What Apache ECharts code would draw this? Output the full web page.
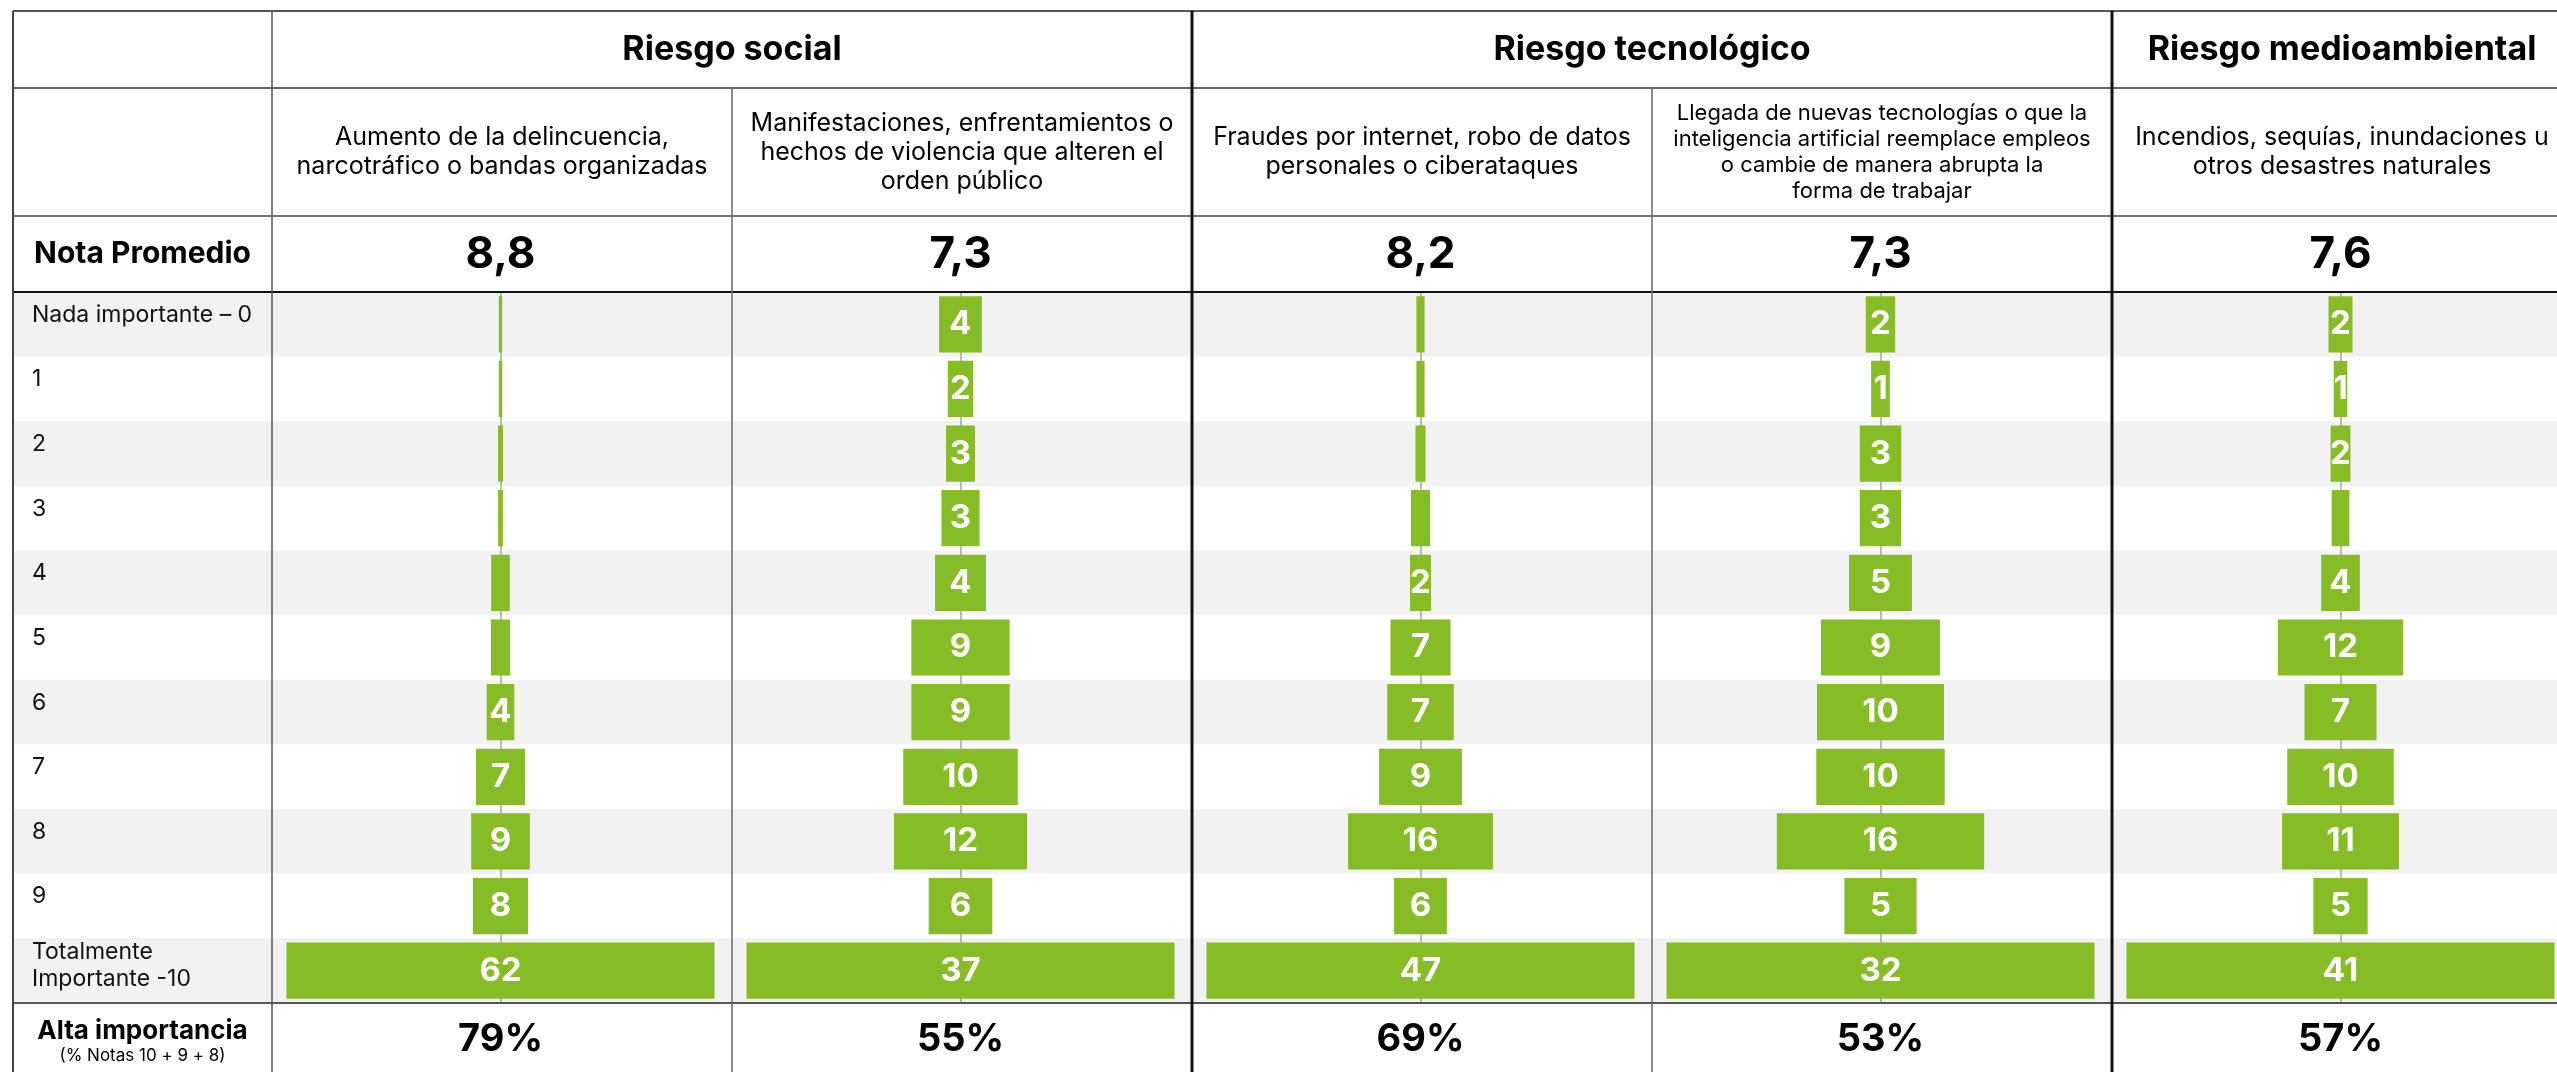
<!DOCTYPE html>
<html>
<head>
<meta charset="utf-8">
<style>
  html, body { margin: 0; padding: 0; background: #fff; }
  #chart { width: 2557px; height: 1072px; }
</style>
<script src="https://cdn.jsdelivr.net/npm/echarts@6/dist/echarts.min.js"></script>
</head>
<body>
<div id="chart"></div>
<script>
// categorias (filas)
const categorias = [
  'Nada importante – 0', '1', '2', '3', '4', '5', '6', '7', '8', '9',
  'Totalmente\nImportante -10'
]
const secciones = ['Riesgo social', 'Riesgo tecnológico', 'Riesgo medioambiental']
const riesgos = [
  'Aumento de la delincuencia,\nnarcotráfico o bandas organizadas',
  'Manifestaciones, enfrentamientos o\nhechos de violencia que alteren el\norden público',
  'Fraudes por internet, robo de datos\npersonales o ciberataques',
  'Llegada de nuevas tecnologías o que la\ninteligencia artificial reemplace empleos\no cambie de manera abrupta la\nforma de trabajar',
  'Incendios, sequías, inundaciones u\notros desastres naturales'
]
const notaPromedio = ['8,8', '7,3', '8,2', '7,3', '7,6']
const altaImportancia = [79, 55, 69, 53, 57]

// % por nota, cada riesgo
const delincuencia = [0.5, 0.5, 0.7, 0.7, 2.7, 2.8, 4.0, 7.1, 8.5, 8.0, 62]
const manifestaciones = [3.7, 2.2, 2.5, 3.3, 4.4, 8.5, 8.5, 9.9, 11.5, 5.5, 37]
const fraudes = [0.9, 0.9, 1.1, 2.1, 2.3, 6.6, 7.3, 9.1, 15.9, 5.8, 47]
const tecnologias = [2.2, 1.4, 3.1, 3.1, 4.7, 8.9, 9.5, 9.6, 15.5, 5.4, 32]
const desastres = [2.3, 1.3, 1.9, 1.7, 3.7, 12.0, 6.9, 10.2, 11.2, 5.2, 41]

// etiquetas que se muestran en las barras
const etqDelincuencia = ['', '', '', '', '', '', '4', '7', '9', '8', '62']
const etqManifestaciones = ['4', '2', '3', '3', '4', '9', '9', '10', '12', '6', '37']
const etqFraudes = ['', '', '', '', '2', '7', '7', '9', '16', '6', '47']
const etqTecnologias = ['2', '1', '3', '3', '5', '9', '10', '10', '16', '5', '32']
const etqDesastres = ['2', '1', '2', '', '4', '12', '7', '10', '11', '5', '41']

const valores = [delincuencia, manifestaciones, fraudes, tecnologias, desastres]
const etiquetas = [etqDelincuencia, etqManifestaciones, etqFraudes, etqTecnologias, etqDesastres]

const verde = '#86bc25'
const font = 'Inter'

// layout de la tabla
const colX = [13, 272, 732, 1192, 1652, 2112, 2572]
const rowY = [11, 88, 216, 292, 1003]
const barSpan = 428

const grids = [{ left: colX[0], right: 0, top: rowY[3], height: rowY[4] - rowY[3] }]
const xAxes = [{ gridIndex: 0, type: 'value', show: false, min: 0, max: 1 }]
const yAxes = [{
  gridIndex: 0,
  type: 'category',
  inverse: true,
  data: categorias,
  axisLine: { show: false },
  axisTick: { show: false },
  axisLabel: {
    inside: true,
    interval: 0,
    margin: 19,
    fontSize: 23,
    lineHeight: 27,
    color: '#111',
    padding: [0, 0, 10, 0],
    // una linea: algo por encima del centro de la fila
    formatter: v => v.indexOf('\n') < 0 ? '{s|' + v + '}' : v,
    rich: { s: { fontSize: 23, color: '#111', padding: [0, 0, 9, 0] } }
  },
  splitLine: { show: false },
  splitArea: { show: true, interval: 0, areaStyle: { color: ['#f2f2f2', '#ffffff'] } }
}]
const series = []

valores.forEach((vals, i) => {
  const center = (colX[i + 1] + colX[i + 2]) / 2 - 1.5
  const max = Math.max(...vals)
  grids.push({ left: center - barSpan / 2, width: barSpan, top: rowY[3], height: rowY[4] - rowY[3] })
  const hidden = {
    axisLine: { show: false }, axisTick: { show: false },
    axisLabel: { show: false }, splitLine: { show: false }
  }
  xAxes.push(Object.assign({
    gridIndex: i + 1, type: 'value', min: -max / 2, max: max / 2,
    name: altaImportancia[i] + '%', nameLocation: 'middle', nameGap: 37,
    nameTextStyle: { fontSize: 38, fontWeight: 'bold', color: '#000', verticalAlign: 'middle' }
  }, hidden))
  xAxes.push(Object.assign({
    gridIndex: i + 1, type: 'value', position: 'top', min: -max / 2, max: max / 2,
    name: notaPromedio[i], nameLocation: 'middle', nameGap: 37,
    nameTextStyle: { fontSize: 44, fontWeight: 'bold', color: '#000', verticalAlign: 'middle' }
  }, hidden))
  yAxes.push({
    gridIndex: i + 1,
    type: 'category',
    inverse: true,
    data: categorias,
    axisLine: { show: true, onZero: true, lineStyle: { color: '#a6a6a6', width: 1.5 } },
    axisTick: { show: false },
    axisLabel: { show: false },
    splitLine: { show: false }
  })
  // base transparente para centrar la barra
  series.push({
    type: 'bar',
    xAxisIndex: 1 + 2 * i,
    yAxisIndex: i + 1,
    stack: 'c' + i,
    stackStrategy: 'all',
    silent: true,
    barCategoryGap: '13%',
    itemStyle: { color: 'transparent' },
    data: vals.map(v => -v / 2)
  })
  series.push({
    type: 'bar',
    xAxisIndex: 1 + 2 * i,
    yAxisIndex: i + 1,
    stack: 'c' + i,
    stackStrategy: 'all',
    barCategoryGap: '13%',
    itemStyle: { color: verde },
    label: {
      show: true,
      position: 'inside',
      color: '#fff',
      fontSize: 33,
      fontWeight: 'bold',
      formatter: p => etiquetas[i][p.dataIndex]
    },
    data: vals
  })
})

// lineas de la tabla
const lines = []
function hline(y, x1, x2, color, w) {
  lines.push({ type: 'line', z: 100, shape: { x1: x1, y1: y, x2: x2, y2: y }, style: { stroke: color, lineWidth: w } })
}
function vline(x, y1, y2, color, w) {
  lines.push({ type: 'line', z: 100, shape: { x1: x, y1: y1, x2: x, y2: y2 }, style: { stroke: color, lineWidth: w } })
}
hline(rowY[0], colX[0], 2557, '#555', 2)
hline(rowY[1], colX[0], 2557, '#333', 1.5)
hline(rowY[2], colX[0], 2557, '#444', 1.5)
hline(rowY[3], colX[0], 2557, '#111', 2)
hline(rowY[4], colX[0], 2557, '#555', 2)
vline(colX[0], rowY[0], 1072, '#444', 2)
vline(colX[1], rowY[0], 1072, '#555', 1.5)
vline(colX[2], rowY[1], 1072, '#666', 1.5)
vline(colX[3], rowY[0], 1072, '#111', 3)
vline(colX[4], rowY[1], 1072, '#666', 1.5)
vline(colX[5], rowY[0], 1072, '#111', 3)

const texts = []
function text(t, x, y, size, weight, lh) {
  texts.push({
    type: 'text', z: 100,
    style: {
      text: t, x: x, y: y, align: 'center', verticalAlign: 'middle',
      fontFamily: font, fontSize: size, fontWeight: weight, lineHeight: lh || size * 1.2, fill: '#000'
    }
  })
}
const secCenters = [(colX[1] + colX[3]) / 2, (colX[3] + colX[5]) / 2, (colX[5] + colX[6]) / 2]
secciones.forEach((s, k) => text(s, secCenters[k], (rowY[0] + rowY[1]) / 2, 34, 'bold'))
riesgos.forEach((r, i) => {
  const c = (colX[i + 1] + colX[i + 2]) / 2
  text(r, c, (rowY[1] + rowY[2]) / 2, i === 3 ? 22 : 25, 'normal', i === 3 ? 26 : 29)
})
const labelCenter = (colX[0] + colX[1]) / 2
text('Nota Promedio', labelCenter, (rowY[2] + rowY[3]) / 2, 30, 'bold')
text('Alta importancia', labelCenter, 1031, 26, 'bold')
text('(% Notas 10 + 9 + 8)', labelCenter, 1056, 17, 'normal')

const chart = echarts.init(document.getElementById('chart'))
chart.setOption({
  animation: false,
  backgroundColor: '#fff',
  textStyle: { fontFamily: font },
  grid: grids,
  xAxis: xAxes,
  yAxis: yAxes,
  series: series,
  graphic: lines.concat(texts)
})
</script>
</body>
</html>
